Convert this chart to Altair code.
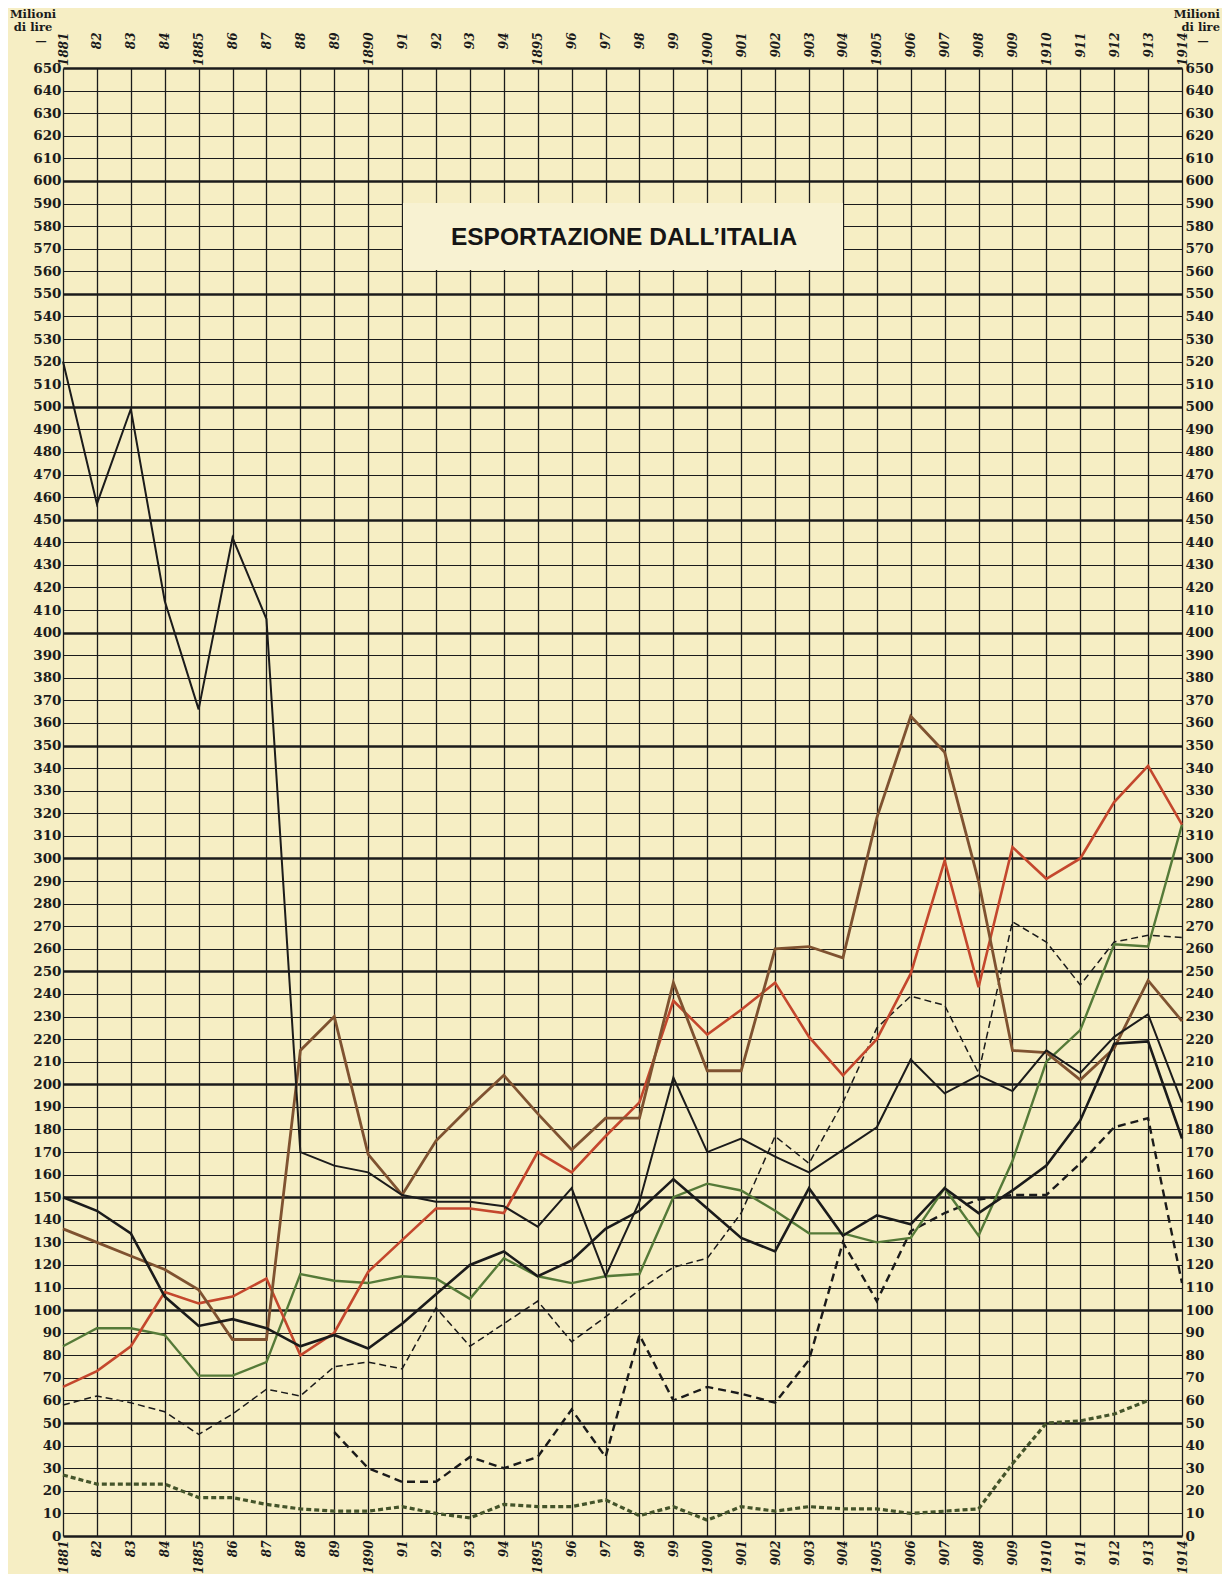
import json
import altair as alt
import pandas as pd

# ---------------- data ----------------
years = list(range(1881, 1915))
year_labels = ["1881", "82", "83", "84", "1885", "86", "87", "88", "89", "1890",
               "91", "92", "93", "94", "1895", "96", "97", "98", "99", "1900",
               "901", "902", "903", "904", "1905", "906", "907", "908", "909", "1910",
               "911", "912", "913", "1914"]
y_ticks = list(range(0, 651, 10))

thin_black = [520, 457, 499, 414, 366, 442, 406, 170, 164, 161,
              151, 148, 148, 146, 137, 154, 115, 148, 203, 170,
              176, 168, 161, 171, 181, 211, 196, 204, 197, 215,
              205, 221, 231, 192]
thick_black = [150, 144, 134, 106, 93, 96, 92, 84, 89, 83,
               94, 107, 120, 126, 115, 122, 136, 144, 158, 145,
               132, 126, 154, 133, 142, 138, 154, 143, 153, 164,
               184, 218, 219, 176]
green = [84, 92, 92, 89, 71, 71, 77, 116, 113, 112,
         115, 114, 105, 123, 115, 112, 115, 116, 150, 156,
         153, 144, 134, 134, 130, 132, 154, 133, 166, 210,
         224, 262, 261, 315]
brown = [136, 130, 124, 118, 109, 87, 87, 215, 230, 169,
         151, 175, 190, 204, 187, 171, 185, 185, 245, 206,
         206, 260, 261, 256, 318, 363, 347, 290, 215, 214,
         202, 216, 246, 228]
red = [66, 73, 84, 108, 103, 106, 114, 80, 90, 117,
       131, 145, 145, 143, 170, 161, 177, 192, 237, 222,
       233, 245, 221, 204, 220, 249, 299, 243, 305, 291,
       300, 325, 341, 315]
thin_dashed = [58, 62, 59, 55, 45, 54, 65, 62, 75, 77,
               74, 101, 84, 94, 104, 86, 97, 109, 119, 123,
               143, 177, 165, 192, 225, 239, 235, 205, 272, 263,
               244, 263, 266, 265]
thick_dashed_years = list(range(1889, 1915))
thick_dashed = [46, 30, 24, 24, 35, 30, 35, 56, 35, 89,
                60, 66, 63, 59, 78, 130, 104, 135, 143, 149,
                151, 151, 165, 181, 185, 112]
dotted_years = list(range(1881, 1914))
dotted = [27, 23, 23, 23, 17, 17, 14, 12, 11, 11,
          13, 10, 8, 14, 13, 13, 16, 9, 13, 7,
          13, 11, 13, 12, 12, 10, 11, 12, 32, 50,
          51, 54, 60]

title_text = "ESPORTAZIONE DALL\u2019ITALIA"
unit_lines = ["Milioni", "di lire"]
unit_dash = "\u2014"

# ---------------- styling ----------------
PAPER = "#f6eec4"
INK = "#1b1b1b"
W, H = 1119, 1468

xscale = alt.Scale(domain=[1881, 1914], nice=False, zero=False)
yscale = alt.Scale(domain=[0, 650], nice=False, zero=True)
label_expr = json.dumps(year_labels) + "[datum.value - 1881]"

year_df = pd.DataFrame({"anno": years, "valore": thin_black})

common_x = dict(values=years, labelExpr=label_expr, labelAngle=270, labelAlign="right",
                labelBaseline="middle", labelFont="DejaVu Serif", labelFontWeight="bold",
                labelFontStyle="italic", labelFontSize=12, labelColor=INK, tickSize=0,
                domain=False, title=None, labelOverlap=False, labelFlush=False, labelBound=False)
common_y = dict(values=y_ticks, labelFont="DejaVu Serif", labelFontWeight="bold",
                labelFontSize=13.5, labelColor=INK, tickSize=0, domain=False, title=None,
                labelOverlap=False, labelFlush=False, labelBaseline="middle")

axes_a = alt.Chart(year_df).mark_point(opacity=0).encode(
    x=alt.X("anno:Q", scale=xscale,
            axis=alt.Axis(orient="bottom", labelPadding=4, grid=True, gridColor=INK,
                          gridWidth=1.3, gridOpacity=1, **common_x)),
    y=alt.Y("valore:Q", scale=yscale,
            axis=alt.Axis(orient="left", labelPadding=2, labelAlign="right", grid=True,
                          gridColor=INK, gridOpacity=1,
                          gridWidth=alt.condition("datum.value % 50 === 0", alt.value(2.4), alt.value(1.2)),
                          **common_y)),
)
axes_b = alt.Chart(year_df).mark_point(opacity=0).encode(
    x=alt.X("anno:Q", scale=xscale,
            axis=alt.Axis(orient="top", labelPadding=36, grid=False, **common_x)),
    y=alt.Y("valore:Q", scale=yscale,
            axis=alt.Axis(orient="right", labelPadding=3, labelAlign="left", grid=False, **common_y)),
)


def line_layer(yrs, vals, color, width, dash=None):
    df = pd.DataFrame({"anno": yrs, "valore": vals})
    kw = dict(color=color, strokeWidth=width, strokeJoin="miter", strokeCap="butt", clip=False)
    if dash:
        kw["strokeDash"] = dash
    return alt.Chart(df).mark_line(**kw).encode(
        x=alt.X("anno:Q", scale=xscale, axis=None),
        y=alt.Y("valore:Q", scale=yscale, axis=None),
    )


layers = [
    line_layer(dotted_years, dotted, "#44542a", 3.2, [5, 3]),
    line_layer(thick_dashed_years, thick_dashed, INK, 2.4, [8, 5]),
    line_layer(years, thin_dashed, INK, 1.5, [7, 4]),
    line_layer(years, green, "#557a38", 2.4),
    line_layer(years, red, "#c4472d", 2.6),
    line_layer(years, brown, "#7f5230", 2.8),
    line_layer(years, thick_black, INK, 2.6),
    line_layer(years, thin_black, INK, 2.0),
]

one = pd.DataFrame({"k": [0]})
title_box = alt.Chart(one).mark_rect(fill="#f8f2d2", stroke=None).encode(
    x=alt.value(340), x2=alt.value(780), y=alt.value(135), y2=alt.value(202)
)
title = alt.Chart(one).mark_text(
    text=title_text, font="Liberation Sans", fontWeight="bold", fontSize=24.5,
    color="#151515", align="center", baseline="middle"
).encode(x=alt.value(561), y=alt.value(170))

unit_style = dict(font="DejaVu Serif", fontWeight="bold", fontSize=11.5, color=INK,
                  baseline="top", lineHeight=13)
unit_left = alt.Chart(one).mark_text(align="center", **unit_style).encode(
    x=alt.value(-30), y=alt.value(-59), text=alt.value(unit_lines))
dash_left = alt.Chart(one).mark_text(align="center", **unit_style).encode(
    x=alt.value(-22), y=alt.value(-32), text=alt.value(unit_dash))
unit_right = alt.Chart(one).mark_text(align="right", **unit_style).encode(
    x=alt.value(1157), y=alt.value(-59), text=alt.value(unit_lines))
dash_right = alt.Chart(one).mark_text(align="center", **unit_style).encode(
    x=alt.value(1140), y=alt.value(-32), text=alt.value(unit_dash))

chart = alt.layer(
    axes_a, axes_b, *layers, title_box, title, unit_left, dash_left, unit_right, dash_right
).resolve_axis(x="independent", y="independent").properties(
    width=W, height=H,
    padding={"left": 55, "top": 60, "right": 40, "bottom": 38},
    autosize=alt.AutoSizeParams(type="none"),
    background=PAPER,
).configure_view(strokeWidth=0, fill=PAPER)

chart.save("out.html", embed_options={"renderer": "svg", "actions": False})
